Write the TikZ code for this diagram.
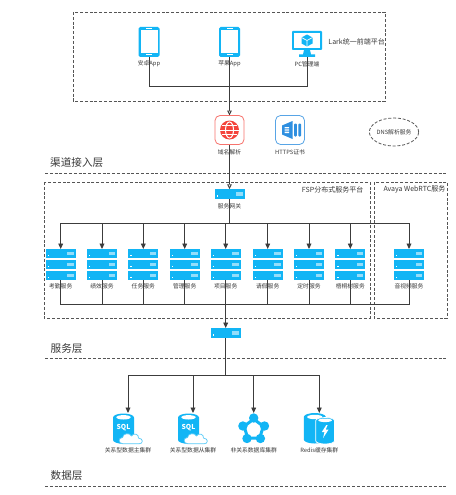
\documentclass[tikz,border=0pt]{standalone}
\usepackage{fontspec}
\setmainfont{Noto Sans CJK SC}
\usetikzlibrary{arrows.meta,shapes.geometric}
\definecolor{icoblue}{HTML}{12B5F5}
\definecolor{linegray}{HTML}{3C3C3C}
\definecolor{dashgray}{HTML}{555555}
\definecolor{txtgray}{HTML}{3A3A3A}
\definecolor{icored}{HTML}{F4443C}
\definecolor{certblue}{HTML}{2E8FE0}
\tikzset{
  x=1pt,y=-1pt,
  lbl/.style={font=\fontsize{5.8}{6}\selectfont,text=txtgray,inner sep=0pt},
  plat/.style={font=\fontsize{7}{8}\selectfont,text=txtgray,inner sep=0pt},
  layer/.style={font=\fontsize{10.6}{12}\selectfont,text=txtgray,inner sep=0pt,anchor=west},
  dashbox/.style={draw=dashgray,line width=0.8pt,dash pattern=on 3pt off 1.8pt},
  conn/.style={draw=linegray,line width=0.95pt},
  arr/.style={conn,-{Triangle[length=5.5pt,width=4.8pt,fill=linegray]}},
  openarr/.style={conn,-{Triangle[open,length=5pt,width=4.6pt,fill=white]}},
  box/.style={inner sep=0pt,outer sep=0pt,minimum width=#1,rectangle},
  box/.default=30pt,
  phone/.pic={
    \fill[icoblue,rounded corners=1.6pt] (-10.5,-15) rectangle (10.5,15);
    \fill[white] (-8.5,-12) rectangle (8.5,11);
    \fill[white] (-3,12.3) rectangle (3,13.5);
    \fill[white] (-3,-13.9) rectangle (3,-13.1);
  },
  monitor/.pic={
    \fill[icoblue,rounded corners=0.8pt] (-15,-13) rectangle (15,6);
    \fill[white] (-13,-11) rectangle (13,4);
    \fill[icoblue] (-3,6) -- (3,6) -- (4,10.5) -- (8,10.5) -- (8,13) -- (-8,13) -- (-8,10.5) -- (-4,10.5) -- cycle;
    \fill[icoblue] (0,-9.5) -- (5.5,-6.5) -- (5.5,-0.5) -- (0,2.5) -- (-5.5,-0.5) -- (-5.5,-6.5) -- cycle;
    \draw[white,line width=0.7pt] (-5.5,-6.5) -- (0,-3.5) -- (5.5,-6.5) (0,-3.5) -- (0,2.5);
  },
  globeicon/.pic={
    \draw[icored!75,line width=0.8pt,fill=white,rounded corners=5pt] (-14.5,-14.5) rectangle (14.5,14.5);
    \fill[icored] (0,0) circle (9.5);
    \draw[white,line width=1pt] (0,0) ellipse (4 and 8);
    \draw[white,line width=1pt] (-9.5,0) -- (9.5,0);
    \draw[white,line width=1pt] (-7.5,-4.2) -- (7.5,-4.2) (-7.5,4.2) -- (7.5,4.2);
  },
  certicon/.pic={
    \draw[certblue!80,line width=0.8pt,fill=white,rounded corners=5pt] (-14.5,-14.5) rectangle (14.5,14.5);
    \fill[certblue] (-8,-4.5) -- (2.5,-9) -- (2.5,9) -- (-8,4.5) -- cycle;
    \fill[white] (-5.5,-3) rectangle (-1,-1.6) (-5.5,-0.7) rectangle (-1,0.7) (-5.5,1.6) rectangle (-1,3);
    \fill[certblue,rounded corners=1pt] (4,-6.5) rectangle (6.8,6.5);
    \fill[certblue,rounded corners=1pt] (8.3,-6.5) rectangle (11,6.5);
  },
  serverbar/.pic={
    \fill[icoblue] (-15,-4.7) rectangle (15,4.7);
    \fill[white] (-13,1.4) rectangle (-11.8,2.6);
    \fill[white,opacity=0.55] (6.5,-1.6) rectangle (13,1.6);
  },
  rack/.pic={
    \path (0,-10.9) pic {serverbar};
    \path (0,0) pic {serverbar};
    \path (0,10.9) pic {serverbar};
  },
  sqlicon/.pic={
    \fill[icoblue] (-15,-11) -- (-15,11.5) arc[start angle=180,end angle=0,x radius=10.5,y radius=3.8]
      -- (6,-11) arc[start angle=360,end angle=180,x radius=10.5,y radius=4] -- cycle;
    \fill[white] (-4.5,-11.2) ellipse (7.2 and 2.2);
    \node[text=white,font=\bfseries\fontsize{6.8}{7}\selectfont,inner sep=0pt] at (-4.5,-0.5) {SQL};
    \draw[icoblue!70,line width=0.7pt,fill=white]
      (-5,15.3) .. controls (-10,15.3) and (-10,9) .. (-5.5,9)
      .. controls (-5,4.5) and (2,4) .. (3.5,7.5)
      .. controls (6,3.5) and (11,6) .. (10.5,9.5)
      .. controls (15.5,10) and (15.5,15.3) .. (11,15.3) -- cycle;
  },
  staricon/.pic={
    \draw[icoblue,line width=3pt] (0,-9.5) -- (9.6,-2.2) -- (6,9.5) -- (-6,9.5) -- (-9.6,-2.2) -- cycle;
    \fill[icoblue] (0,-10.5) circle (4.7) (10.8,-2.5) circle (4.7) (6.7,10) circle (4.7) (-6.7,10) circle (4.7) (-10.8,-2.5) circle (4.7);
  },
  redisicon/.pic={
    \fill[icoblue] (-15.5,-11.5) -- (-15.5,11) arc[start angle=180,end angle=0,x radius=11,y radius=4]
      -- (6.5,-11.5) arc[start angle=360,end angle=180,x radius=11,y radius=4] -- cycle;
    \fill[white] (-4.5,-11.5) ellipse (7.6 and 2.2);
    \draw[white,line width=0.7pt,fill=icoblue] (-3.5,-8) -- (-3.5,12.5) arc[start angle=180,end angle=0,x radius=9.3,y radius=3]
      -- (15.1,-8) arc[start angle=360,end angle=180,x radius=9.3,y radius=3] -- cycle;
    \fill[white] (5.8,-8.2) ellipse (6.8 and 1.8);
    \fill[white] (7,-3.5) -- (2.5,3.5) -- (5.2,3.5) -- (3.8,9.5) -- (9.3,1) -- (6.4,1) -- (8.3,-3.5) -- cycle;
  },
}
\begin{document}
\begin{tikzpicture}
\useasboundingbox (0,0) rectangle (455,495);
\fill[white] (0,0) rectangle (455,495);

% frames and layer rules
\draw[dashbox] (73,12) rectangle (385,101);
\draw[dashbox] (44,182) rectangle (370,318);
\draw[dashbox] (374,182) rectangle (447,318);
\draw[dashbox] (45,173) -- (446,173);
\draw[dashbox] (45,358.7) -- (446,358.7);
\draw[dashbox] (45,486.7) -- (446,486.7);

% nodes
\node[box=21pt,minimum height=30pt] (android) at (149,42) {};
\node[box=21pt,minimum height=30pt] (apple) at (229.5,42) {};
\node[box=30pt,minimum height=26pt] (pc) at (307,44) {};
\node[box=29pt,minimum height=29pt] (dns) at (229.5,130) {};
\node[box=29pt,minimum height=29pt] (cert) at (290,130) {};
\node[box=31pt,minimum height=9.5pt] (gw) at (229.5,194) {};
\node[box=31pt,minimum height=10pt] (lb) at (225.7,333) {};
\foreach \nm/\xx in {s1/60.7,s2/102,s3/143.3,s4/184.7,s5/225.7,s6/267.7,s7/309,s8/350.3,s9/409}
  \node[box=30pt,minimum height=31pt] (\nm) at (\xx,264.5) {};
\node[box=30pt,minimum height=31pt] (d1) at (128,428.5) {};
\node[box=30pt,minimum height=31pt] (d2) at (193,428.5) {};
\node[box=30pt,minimum height=31pt] (d3) at (253.7,428.5) {};
\node[box=30pt,minimum height=31pt] (d4) at (319.3,428.5) {};

% junctions
\coordinate (topbus) at (229.5,86);
\coordinate (gwbus) at (229.5,223);
\coordinate (lowbus) at (225.7,304);
\coordinate (dbbus) at (225.7,375);

% connectors
\draw[conn] (android.south) |- (topbus);
\draw[conn] (pc.south) |- (topbus);
\draw[openarr] (apple.south) -- (dns.north);
\draw[openarr] (dns.south) -- (gw.north);
\draw[conn] (gw.south) -- (gwbus);
\foreach \nm in {s1,s2,s3,s4,s5,s6,s7,s8,s9}
  \draw[arr] (gwbus) -| (\nm.north);
\foreach \nm in {s1,s2,s3,s4,s6,s7,s8,s9}
  \draw[conn] (\nm.south) |- (lowbus);
\draw[arr] (s5.south) -- (lb.north);
\draw[conn] (lb.south) -- (dbbus);
\foreach \nm in {d1,d2,d3,d4}
  \draw[arr] (dbbus) -| (\nm.north);

% icons
\path (android.center) pic {phone};
\path (apple.center) pic {phone};
\path (307,44) pic {monitor};
\path (dns.center) pic {globeicon};
\path (cert.center) pic {certicon};
\path (gw.center) pic {serverbar};
\path (lb.center) pic {serverbar};
\foreach \nm in {s1,s2,s3,s4,s5,s6,s7,s8,s9}
  \path (\nm.center) pic {rack};
\path (d1.center) pic {sqlicon};
\path (d2.center) pic {sqlicon};
\path (d3.center) pic {staricon};
\path (d4.center) pic {redisicon};

% labels
\node[lbl] (landroid) at (149,64) {安卓App};
\node[lbl] (lapple) at (229.5,64) {苹果App};
\node[lbl] (lpc) at (307,64.5) {PC管理端};
\node[plat,anchor=east] (lark) at (385,42) {Lark统一前端平台};
\node[lbl] (ldns) at (229.5,152) {域名解析};
\node[lbl] (lcert) at (290,152) {HTTPS证书};
\node[draw=dashgray,line width=0.8pt,dash pattern=on 3pt off 1.8pt,ellipse,minimum width=49pt,minimum height=28pt,inner sep=0pt,lbl] (dnssvc) at (394,132) {DNS解析服务};
\node[layer] (t1) at (50,162.5) {渠道接入层};
\node[layer] (t2) at (50.5,348.5) {服务层};
\node[layer] (t3) at (50.5,476) {数据层};
\node[plat,anchor=east] (fsp) at (363.5,189.5) {FSP分布式服务平台};
\node[plat,anchor=east] (ava) at (445.5,189.5) {Avaya WebRTC服务};
\node[lbl] (lgw) at (229.5,206) {服务网关};
\foreach \nm/\tx in {s1/考勤服务,s2/绩效服务,s3/任务服务,s4/管理服务,s5/项目服务,s6/请假服务,s7/定时服务,s8/梧桐树服务,s9/音视频服务}
  \node[lbl] at ([yshift=-6.5pt]\nm.south) {\tx};
\node[lbl] (ld1) at (128,450) {关系型数据主集群};
\node[lbl] (ld2) at (193,450) {关系型数据从集群};
\node[lbl] (ld3) at (253.7,450) {非关系数据库集群};
\node[lbl] (ld4) at (319.3,450) {Redis缓存集群};
\end{tikzpicture}
\end{document}
